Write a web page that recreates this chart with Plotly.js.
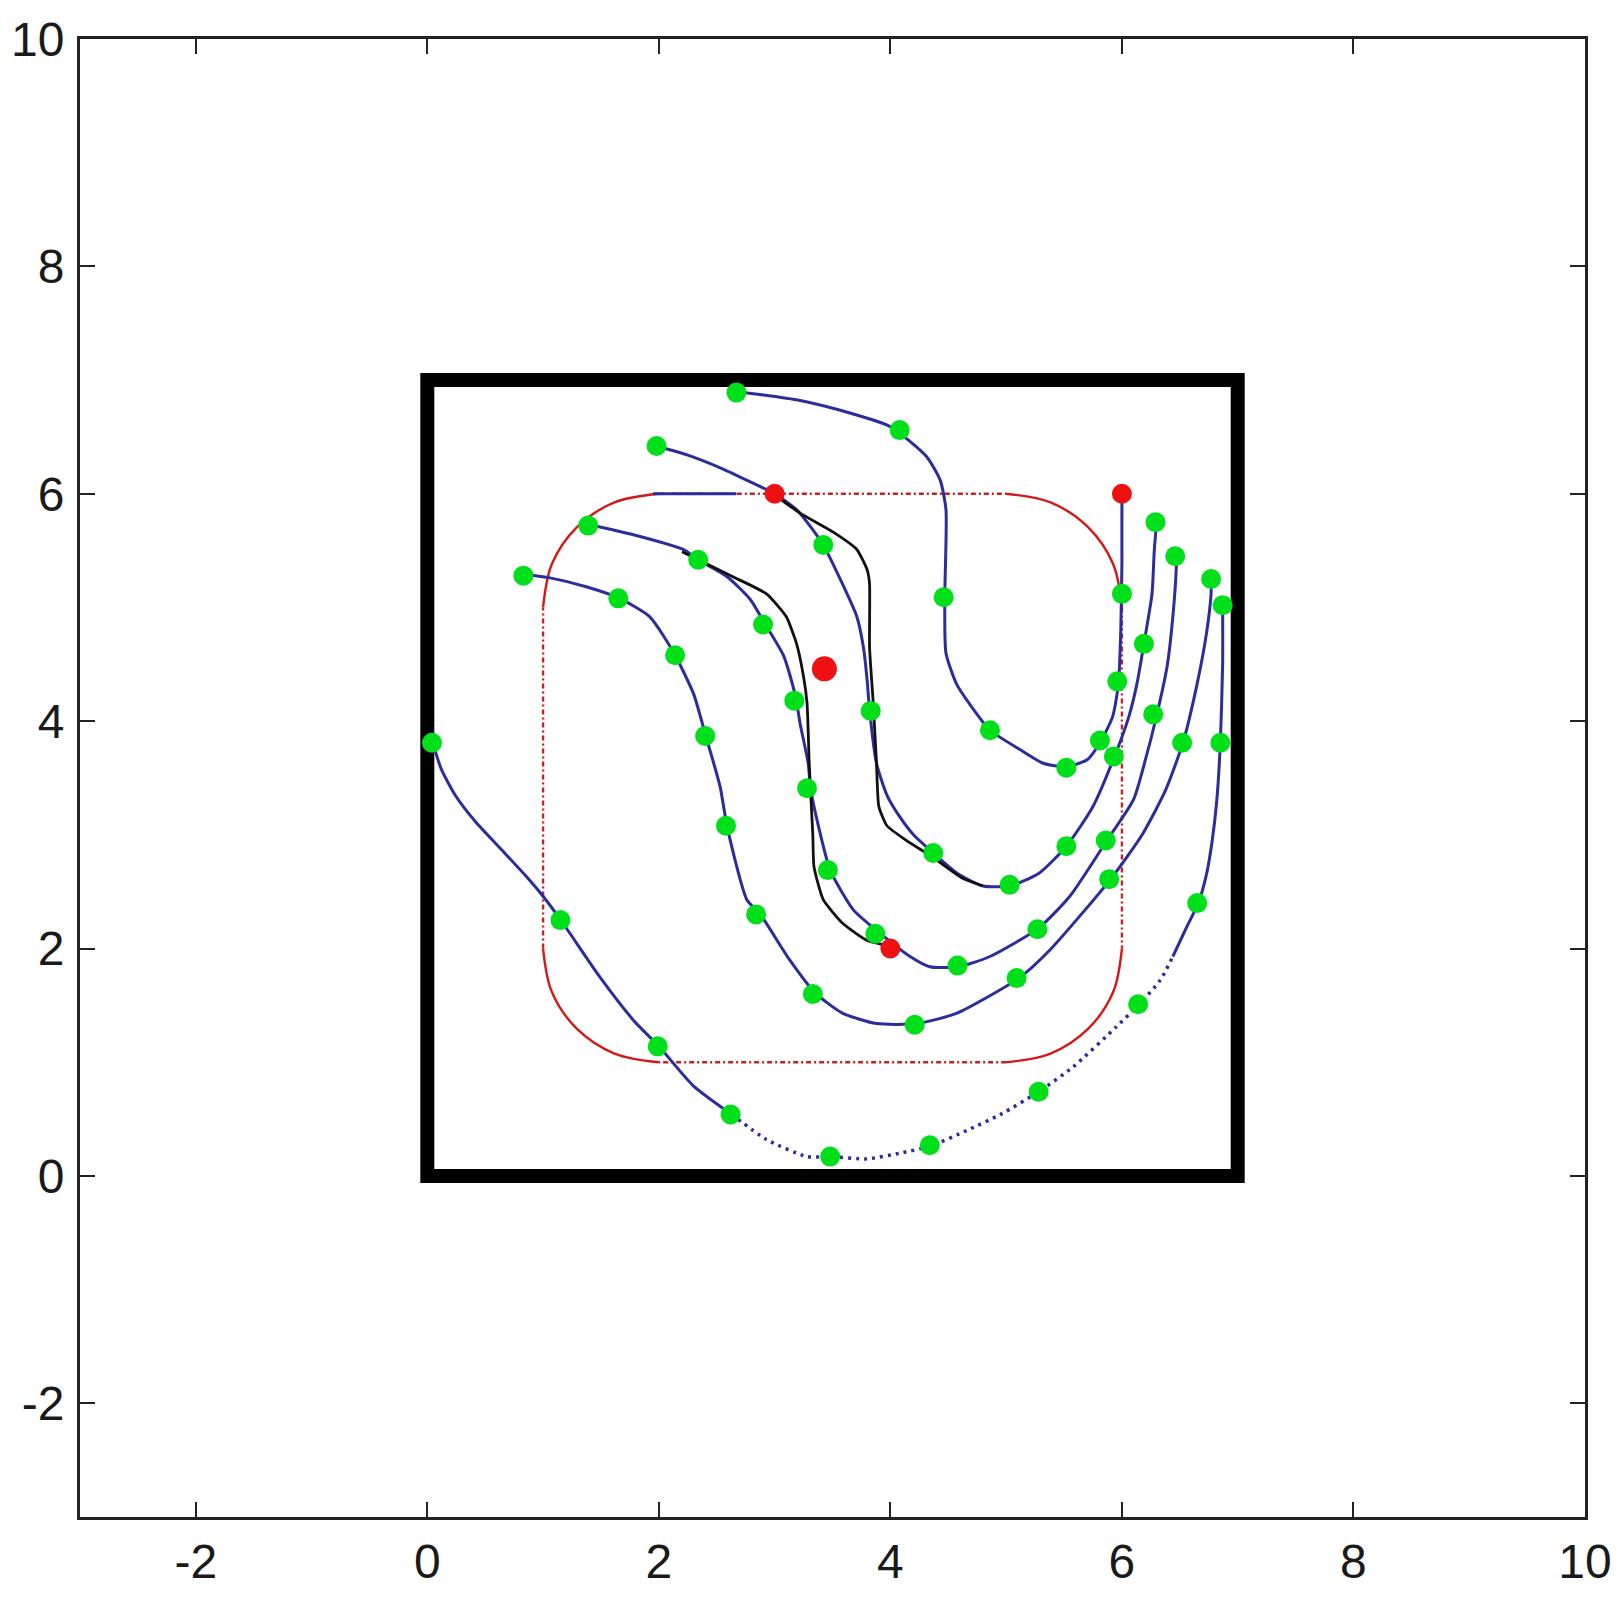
<!DOCTYPE html>
<html>
<head>
<meta charset="utf-8">
<script src="https://cdn.plot.ly/plotly-3.0.1.min.js"></script>
<style>html,body{margin:0;padding:0;background:#fff;}#chart{width:1620px;height:1601px;}</style>
</head>
<body>
<div id="chart"></div>
<script>
// ---- axis ticks ----
const tickVals = [-2, 0, 2, 4, 6, 8, 10];
const tickText = ["-2", "0", "2", "4", "6", "8", "10"];

// ---- boundary square ----
const squareX = [0, 7, 7, 0, 0, 7];
const squareY = [0, 0, 7, 7, 0, 0];

// ---- reference path (rounded rectangle) ----
const refLineX = [2, 5, null, 6, 6, null, 5, 2, null, 1, 1];
const refLineY = [6, 6, null, 5, 2, null, 1, 1, null, 2, 5];
const refArcX = [1, 1.076, 1.293, 1.617, 2, null, 5, 5.383, 5.707, 5.924, 6, null, 6, 5.924, 5.707, 5.383, 5, null, 2, 1.617, 1.293, 1.076, 1];
const refArcY = [5, 5.383, 5.707, 5.924, 6, null, 6, 5.924, 5.707, 5.383, 5, null, 2, 1.617, 1.293, 1.076, 1, null, 1, 1.076, 1.293, 1.617, 2];
const refBlueX = [1.95, 2.67];
const refBlueY = [6.0, 6.0];

// ---- trajectories (blue) ----
const s1x = [2.67, 3.22, 3.65, 4.0, 4.31, 4.43, 4.48, 4.47, 4.48, 4.57, 4.72, 4.86, 5.12, 5.32, 5.52, 5.70, 5.81, 5.92, 5.97, 5.99, 6.0, 6.0];
const s1y = [6.90, 6.82, 6.71, 6.59, 6.33, 6.12, 5.86, 5.09, 4.60, 4.33, 4.10, 3.92, 3.75, 3.63, 3.60, 3.66, 3.81, 4.04, 4.33, 4.8, 5.4, 6.0];

const s2x = [1.98, 2.25, 2.55, 2.80, 3.0, 3.2, 3.42, 3.58, 3.71, 3.77, 3.80, 3.82, 3.88, 3.97, 4.08, 4.2, 4.37, 4.58, 4.80, 5.03, 5.28, 5.52, 5.75, 5.94, 6.06, 6.13, 6.21, 6.26, 6.28, 6.30];
const s2y = [6.42, 6.34, 6.22, 6.10, 6.0, 5.85, 5.55, 5.22, 4.92, 4.63, 4.35, 4.10, 3.63, 3.35, 3.16, 3.0, 2.84, 2.66, 2.55, 2.55, 2.66, 2.90, 3.25, 3.70, 4.04, 4.33, 4.80, 5.12, 5.51, 5.75];

const s3x = [1.39, 1.78, 2.21, 2.34, 2.59, 2.79, 2.92, 3.08, 3.18, 3.22, 3.29, 3.31, 3.38, 3.48, 3.68, 3.88, 4.17, 4.34, 4.59, 4.86, 5.28, 5.55, 5.87, 6.10, 6.20, 6.30, 6.39, 6.44, 6.47, 6.47];
const s3y = [5.73, 5.64, 5.51, 5.42, 5.27, 5.07, 4.85, 4.57, 4.22, 3.98, 3.63, 3.41, 3.07, 2.69, 2.34, 2.16, 1.93, 1.84, 1.84, 1.93, 2.18, 2.46, 2.95, 3.31, 3.65, 4.05, 4.48, 4.92, 5.36, 5.45];

const s4x = [0.84, 1.06, 1.38, 1.66, 1.92, 2.13, 2.30, 2.40, 2.53, 2.59, 2.76, 2.87, 3.13, 3.35, 3.59, 3.88, 4.23, 4.57, 5.11, 5.38, 5.91, 6.18, 6.38, 6.53, 6.65, 6.73, 6.77, 6.77];
const s4y = [5.29, 5.26, 5.18, 5.08, 4.92, 4.60, 4.24, 3.89, 3.42, 3.07, 2.43, 2.31, 1.90, 1.61, 1.43, 1.34, 1.34, 1.43, 1.74, 1.99, 2.62, 3.01, 3.40, 3.82, 4.33, 4.77, 5.12, 5.26];

const s5aX = [0.05, 0.12, 0.24, 0.42, 0.65, 0.85, 1.00, 1.16, 1.49, 1.78, 2.0, 2.30, 2.63];
const s5aY = [3.80, 3.58, 3.35, 3.11, 2.86, 2.64, 2.46, 2.24, 1.75, 1.37, 1.14, 0.79, 0.54];
const s5bX = [2.63, 2.93, 3.28, 3.48, 3.80, 4.08, 4.34, 4.66, 4.95, 5.28, 5.58, 5.95, 6.14, 6.33, 6.44];
const s5bY = [0.54, 0.32, 0.17, 0.17, 0.15, 0.20, 0.26, 0.40, 0.54, 0.74, 0.96, 1.31, 1.50, 1.72, 1.93];
const s5cX = [6.44, 6.56, 6.66, 6.73, 6.78, 6.82, 6.85, 6.87, 6.87];
const s5cY = [1.93, 2.19, 2.40, 2.65, 2.95, 3.31, 3.81, 4.5, 5.02];

// ---- trajectories (black) ----
const blackAX = [2.96, 3.22, 3.51, 3.71, 3.80, 3.82, 3.82, 3.85, 3.88, 3.90, 3.97, 4.14, 4.37, 4.62, 4.80];
const blackAY = [6.02, 5.83, 5.66, 5.51, 5.33, 5.21, 4.65, 4.19, 3.63, 3.25, 3.08, 2.95, 2.80, 2.62, 2.55];
const blackBX = [2.20, 2.64, 2.93, 3.10, 3.19, 3.25, 3.28, 3.30, 3.33, 3.34, 3.42, 3.59, 3.80, 4.0];
const blackBY = [5.49, 5.27, 5.12, 4.92, 4.68, 4.39, 4.16, 3.60, 3.00, 2.72, 2.43, 2.22, 2.07, 2.02];

// ---- sample points (green) ----
const greenX = [2.67, 4.08, 4.46, 4.86, 5.52, 5.81, 5.96, 6.0,
                1.98, 3.42, 3.83, 4.37, 5.03, 5.52, 5.93, 6.19, 6.29,
                1.39, 2.34, 2.90, 3.17, 3.28, 3.46, 3.87, 4.58, 5.27, 5.86, 6.27, 6.46,
                0.83, 1.65, 2.14, 2.40, 2.58, 2.84, 3.33, 4.21, 5.09, 5.89, 6.52, 6.77,
                0.04, 1.15, 1.99, 2.62, 3.48, 4.34, 5.28, 6.14, 6.65, 6.85, 6.87];
const greenY = [6.89, 6.56, 5.09, 3.92, 3.59, 3.83, 4.35, 5.12,
                6.42, 5.55, 4.09, 2.84, 2.56, 2.90, 3.69, 4.68, 5.75,
                5.72, 5.42, 4.85, 4.18, 3.41, 2.69, 2.13, 1.85, 2.17, 2.95, 4.06, 5.45,
                5.28, 5.08, 4.58, 3.87, 3.08, 2.30, 1.60, 1.33, 1.74, 2.61, 3.81, 5.25,
                3.81, 2.25, 1.14, 0.54, 0.17, 0.27, 0.74, 1.51, 2.40, 3.81, 5.02];

// ---- targets (red) ----
const redX = [3, 6, 4];
const redY = [6, 6, 2];
const centerX = [3.43];
const centerY = [4.46];

const BLUE = '#2c2c9c';
const GREEN = '#00e01a';
const RED = '#ee1111';

function blue(x, y, extra) {
  return Object.assign({x: x, y: y, mode: 'lines', type: 'scatter', hoverinfo: 'skip',
    line: {color: BLUE, width: 3, shape: 'spline', smoothing: 0.6}}, extra || {});
}

const traces = [
  {x: squareX, y: squareY, mode: 'lines', type: 'scatter', line: {color: '#000', width: 14}, hoverinfo: 'skip'},
  {x: refLineX, y: refLineY, mode: 'lines', type: 'scatter', connectgaps: false,
   line: {color: '#c02424', width: 2.4, dash: '5px,3px,2px,3px'}, hoverinfo: 'skip'},
  {x: refArcX, y: refArcY, mode: 'lines', type: 'scatter', connectgaps: false,
   line: {color: '#d41818', width: 2.4, shape: 'spline', smoothing: 1}, hoverinfo: 'skip'},
  blue(refBlueX, refBlueY, {line: {color: BLUE, width: 3}}),
  blue(s1x, s1y),
  blue(s2x, s2y),
  blue(s3x, s3y),
  blue(s4x, s4y),
  blue(s5aX, s5aY),
  blue(s5bX, s5bY, {line: {color: BLUE, width: 3.5, shape: 'spline', smoothing: 0.6, dash: '3px,5px'}}),
  blue(s5cX, s5cY),
  {x: blackAX, y: blackAY, mode: 'lines', type: 'scatter', line: {color: '#111', width: 2.8, shape: 'spline', smoothing: 0.5}, hoverinfo: 'skip'},
  {x: blackBX, y: blackBY, mode: 'lines', type: 'scatter', line: {color: '#111', width: 2.8, shape: 'spline', smoothing: 0.5}, hoverinfo: 'skip'},
  {x: greenX, y: greenY, mode: 'markers', type: 'scatter', marker: {color: GREEN, size: 20}, hoverinfo: 'skip'},
  {x: redX, y: redY, mode: 'markers', type: 'scatter', marker: {color: RED, size: 20}, hoverinfo: 'skip'},
  {x: centerX, y: centerY, mode: 'markers', type: 'scatter', marker: {color: RED, size: 25}, hoverinfo: 'skip'}
];

const axisCommon = {
  range: [-3, 10], tickmode: 'array', tickvals: tickVals, ticktext: tickText,
  ticks: 'inside', ticklen: 15, tickwidth: 2, tickcolor: '#222',
  showline: true, linecolor: '#222', linewidth: 3, mirror: 'ticks',
  showgrid: false, zeroline: false, fixedrange: true,
  tickfont: {family: '"Liberation Sans", Arial, sans-serif', size: 48, color: '#1a1a1a'}
};

const layout = {
  width: 1620, height: 1601,
  margin: {l: 80, r: 35, t: 39, b: 84},
  paper_bgcolor: '#fff', plot_bgcolor: '#fff',
  showlegend: false,
  xaxis: Object.assign({}, axisCommon, {ticklabelstandoff: 0}),
  yaxis: Object.assign({}, axisCommon, {ticklabelstandoff: 3})
};

Plotly.newPlot('chart', traces, layout, {displayModeBar: false, staticPlot: true});
</script>
</body>
</html>
